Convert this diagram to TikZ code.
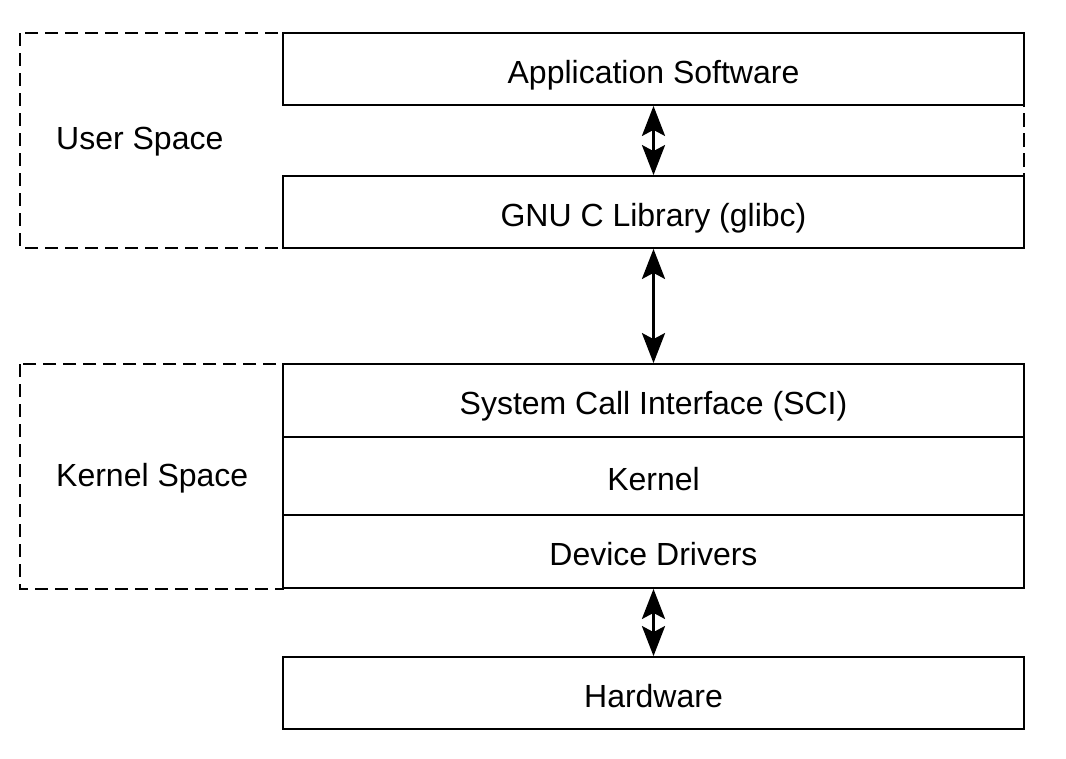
\documentclass[tikz,border=0pt]{standalone}
\usepackage{fontspec}
\setmainfont{Liberation Sans}
\usetikzlibrary{arrows.meta}
\begin{document}
\begin{tikzpicture}[x=1pt,y=-1pt,
  txt/.style={font=\fontsize{32}{38}\selectfont,text height=28pt,text depth=0pt},
  layer/.style={txt,draw=black,line width=1.8pt,fill=white,minimum width=741pt,inner sep=0pt},
  spacebox/.style={draw=black,line width=1.8pt,dash pattern=on 13pt off 7pt},
  spacelabel/.style={txt,anchor=west,inner sep=0pt},
  arr/.style={line width=3pt,{Stealth[length=30pt,width=23pt,inset=6pt]}-{Stealth[length=30pt,width=23pt,inset=6pt]}}]
\useasboundingbox (0,0) rectangle (1066,758);
% dashed regions
\draw[spacebox] (20,33) rectangle (1024,248);
\draw[spacebox] (20,364) rectangle (283,589);
% layers
\node[layer,minimum height=72pt] (app) at (653.5,69) {Application Software};
\node[layer,minimum height=72pt] (gnu) at (653.5,212) {GNU C Library (glibc)};
\node[layer,minimum height=73pt] (sci) at (653.5,400.5) {System Call Interface (SCI)};
\node[layer,minimum height=78pt] (ker) at (653.5,476) {Kernel};
\node[layer,minimum height=73pt] (dd) at (653.5,551.5) {Device Drivers};
\node[layer,minimum height=72pt] (hw) at (653.5,693) {Hardware};
% dashed right edge of user space between boxes
\draw[spacebox] (1024,33) -- (1024,248);
% labels
\node[spacelabel] (us) at (56,135) {User Space};
\node[spacelabel] (ks) at (56,472) {Kernel Space};
% arrows
\draw[arr] (app.south) -- (gnu.north);
\draw[arr] (gnu.south) -- (sci.north);
\draw[arr] (dd.south) -- (hw.north);
\end{tikzpicture}
\end{document}
